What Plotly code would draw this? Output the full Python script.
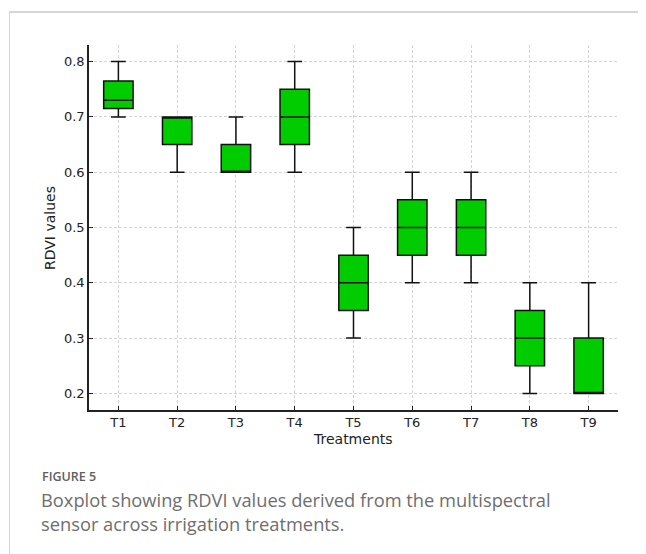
import plotly.graph_objects as go

categories = ["T1", "T2", "T3", "T4", "T5", "T6", "T7", "T8", "T9"]
lower_whisker = [0.70, 0.60, 0.60, 0.60, 0.30, 0.40, 0.40, 0.20, 0.20]
q1_values = [0.715, 0.65, 0.60, 0.65, 0.35, 0.45, 0.45, 0.25, 0.20]
median_values = [0.73, 0.70, 0.60, 0.70, 0.40, 0.50, 0.50, 0.30, 0.20]
q3_values = [0.765, 0.70, 0.65, 0.75, 0.45, 0.55, 0.55, 0.35, 0.30]
upper_whisker = [0.80, 0.70, 0.70, 0.80, 0.50, 0.60, 0.60, 0.40, 0.40]
y_ticks = [0.2, 0.3, 0.4, 0.5, 0.6, 0.7, 0.8]

# page body has an 8px margin; lay out in page pixels and convert
OFF = 8
W, H = 646 - OFF, 554 - OFF
PLOT_L, PLOT_R, PLOT_T, PLOT_B = 89, 618, 45, 410  # page pixels
L, T = PLOT_L - OFF, PLOT_T - OFF
R = (646 - OFF) - (PLOT_R - OFF)
B = (554 - OFF) - (PLOT_B - OFF)
PW, PH = PLOT_R - PLOT_L, PLOT_B - PLOT_T


def px_x(p):
    return (p - PLOT_L) / PW


def px_y(p):
    return (PLOT_B - p) / PH


fig = go.Figure()
fig.add_trace(go.Box(
    x=categories,
    q1=q1_values,
    median=median_values,
    q3=q3_values,
    lowerfence=lower_whisker,
    upperfence=upper_whisker,
    width=0.5,
    whiskerwidth=0.5,
    fillcolor="#00cc00",
    line=dict(color="#111111", width=1.5),
    boxpoints=False,
    showlegend=False,
))

chart_font = "DejaVu Sans"
caption_font = "Open Sans"
grid_color = "#d4d4d4"

fig.update_layout(
    width=W, height=H,
    margin=dict(l=L, r=R, t=T, b=B),
    paper_bgcolor="white",
    plot_bgcolor="white",
    font=dict(family=chart_font, size=13, color="#222222"),
    xaxis=dict(
        type="category",
        range=[-0.5, 8.5],
        showgrid=True, gridcolor=grid_color, gridwidth=1, griddash="3px,2px",
        showline=True, linecolor="#222222", linewidth=1.5,
        ticks="inside", ticklen=4, tickcolor="#222222", tickwidth=1,
        tickfont=dict(family=chart_font, size=13, color="#222222"),
        zeroline=False,
    ),
    yaxis=dict(
        range=[0.17, 0.83],
        tickvals=y_ticks,
        ticktext=[f"{v:.1f}" for v in y_ticks],
        showgrid=True, gridcolor=grid_color, gridwidth=1, griddash="3px,2px",
        showline=True, linecolor="#222222", linewidth=1.5,
        ticks="inside", ticklen=4, tickcolor="#222222", tickwidth=1,
        tickfont=dict(family=chart_font, size=13, color="#222222"),
        zeroline=False,
    ),
    shapes=[
        dict(type="line", xref="paper", yref="paper",
             x0=px_x(9), x1=px_x(646), y0=px_y(12), y1=px_y(12),
             line=dict(color="#d6d6d6", width=2)),
        dict(type="line", xref="paper", yref="paper",
             x0=px_x(9.5), x1=px_x(9.5), y0=px_y(12), y1=px_y(554),
             line=dict(color="#d6d6d6", width=1)),
    ],
    annotations=[
        dict(text="Treatments", xref="paper", yref="paper",
             x=px_x(353), y=px_y(439), xanchor="center", yanchor="middle",
             showarrow=False, font=dict(family=chart_font, size=14, color="#222222")),
        dict(text="RDVI values", xref="paper", yref="paper",
             x=px_x(50), y=px_y(228), xanchor="center", yanchor="middle",
             textangle=-90, showarrow=False,
             font=dict(family=chart_font, size=14, color="#222222")),
        dict(text="FIGURE 5", xref="paper", yref="paper",
             x=px_x(40), y=px_y(476.5), xanchor="left", yanchor="middle",
             showarrow=False,
             font=dict(family=caption_font, size=12.5, weight=600, color="#5e5e5e")),
        dict(text="Boxplot showing RDVI values derived from the multispectral",
             xref="paper", yref="paper",
             x=px_x(39), y=px_y(499), xanchor="left", yanchor="middle",
             showarrow=False, font=dict(family=caption_font, size=18.3, color="#6e6e6e")),
        dict(text="sensor across irrigation treatments.",
             xref="paper", yref="paper",
             x=px_x(39), y=px_y(523.5), xanchor="left", yanchor="middle",
             showarrow=False, font=dict(family=caption_font, size=18.3, color="#6e6e6e")),
    ],
)

fig.write_html("out.html")
